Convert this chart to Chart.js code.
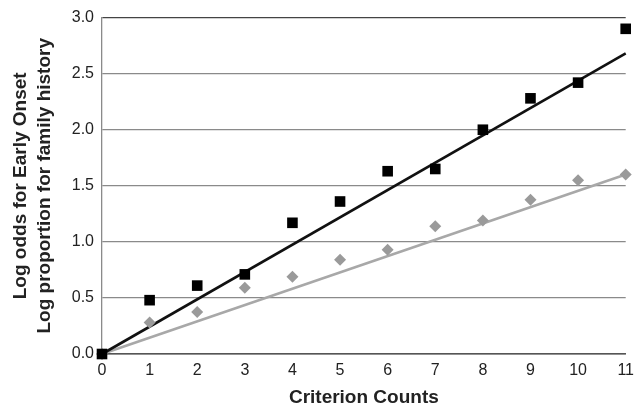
<!DOCTYPE html>
<html>
<head>
<meta charset="utf-8">
<script src="https://cdn.jsdelivr.net/npm/chart.js@4"></script>
<style>
  html, body { margin: 0; padding: 0; background: #fff; }
  #wrap { width: 641px; height: 413px; position: relative; }
</style>
</head>
<body>
<div id="wrap"><canvas id="c" width="641" height="413"></canvas></div>
<script>
// Data
const criterionCounts = [0, 1, 2, 3, 4, 5, 6, 7, 8, 9, 10, 11];
const logOddsEarlyOnset = [0, 0.48, 0.61, 0.71, 1.17, 1.36, 1.63, 1.65, 2.00, 2.28, 2.42, 2.90];
const logPropFamilyHistory = [0, 0.28, 0.375, 0.59, 0.69, 0.84, 0.93, 1.14, 1.19, 1.375, 1.55, 1.60];
// Linear trend lines (endpoints as drawn in the reference)
const trendX = [0, 11];
const trendEarlyOnset = [0, 2.68];
const trendFamilyHistory = [0, 1.60];
const yTicks = [0, 0.5, 1.0, 1.5, 2.0, 2.5, 3.0];
const xTitle = 'Criterion Counts';
const yTitle = ['Log odds for Early Onset', 'Log proportion for family history'];

const toPts = (xs, ys) => xs.map((x, i) => ({ x: x, y: ys[i] }));

new Chart(document.getElementById('c'), {
  type: 'scatter',
  data: {
    datasets: [
      {
        label: 'Early onset',
        data: toPts(criterionCounts, logOddsEarlyOnset),
        pointStyle: 'rect',
        pointRadius: 7.5,
        pointHoverRadius: 7.5,
        backgroundColor: '#000',
        borderColor: '#000',
        borderWidth: 0,
        clip: false,
        order: 0
      },
      {
        label: 'Family history',
        data: toPts(criterionCounts, logPropFamilyHistory),
        pointStyle: 'rectRot',
        pointRadius: 6,
        pointHoverRadius: 6,
        backgroundColor: '#9a9a9a',
        borderColor: '#9a9a9a',
        borderWidth: 0,
        clip: false,
        order: 1
      },
      {
        label: 'Trend early onset',
        data: toPts(trendX, trendEarlyOnset),
        showLine: true,
        pointRadius: 0,
        borderColor: '#111',
        borderWidth: 2.6,
        clip: false,
        order: 2
      },
      {
        label: 'Trend family history',
        data: toPts(trendX, trendFamilyHistory),
        showLine: true,
        pointRadius: 0,
        borderColor: '#a8a8a8',
        borderWidth: 2.6,
        clip: false,
        order: 3
      }
    ]
  },
  options: {
    responsive: false,
    animation: false,
    layout: { padding: { left: 0, top: 16, right: 14, bottom: 0 } },
    plugins: { legend: { display: false }, tooltip: { enabled: false } },
    scales: {
      x: {
        type: 'linear',
        min: 0, max: 11,
        afterFit: s => { s.height = 59; },
        ticks: {
          stepSize: 1,
          padding: 7,
          color: '#222',
          font: { family: 'Liberation Sans, Arial, sans-serif', size: 16 }
        },
        grid: { display: false, drawTicks: false },
        border: { display: true, color: '#555', width: 1.5 },
        title: {
          display: true,
          text: xTitle,
          color: '#222',
          padding: { top: 0, bottom: 4 },
          font: { family: 'Liberation Sans, Arial, sans-serif', size: 19, weight: 'bold' }
        }
      },
      y: {
        min: 0, max: 3,
        afterFit: s => { s.width = 102; },
        afterBuildTicks: s => { s.ticks = yTicks.map(v => ({ value: v })); },
        ticks: {
          padding: 8,
          color: '#222',
          callback: v => Number(v).toFixed(1),
          font: { family: 'Liberation Sans, Arial, sans-serif', size: 16 }
        },
        grid: {
          drawTicks: false,
          color: ctx => (ctx.tick && (ctx.tick.value === 3 || ctx.tick.value === 0)) ? '#444' : '#8a8a8a',
          lineWidth: 1.3
        },
        border: { display: true, color: '#8a8a8a', width: 1.3 },
        title: {
          display: true,
          text: yTitle,
          color: '#222',
          padding: { top: 9, bottom: 0 },
          font: { family: 'Liberation Sans, Arial, sans-serif', size: 19, weight: 'bold', lineHeight: 1.26 }
        }
      }
    }
  }
});
</script>
</body>
</html>
